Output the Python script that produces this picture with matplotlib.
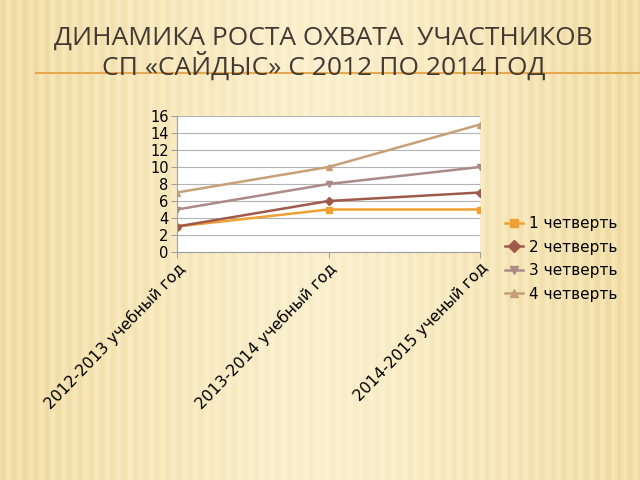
import numpy as np
import matplotlib
matplotlib.use("Agg")
import matplotlib.pyplot as plt
from matplotlib.lines import Line2D

categories = ["2012-2013 учебный год", "2013-2014 учебный год", "2014-2015 ученый год"]
series_names = ["1 четверть", "2 четверть", "3 четверть", "4 четверть"]
q1 = [3, 5, 5]
q2 = [3, 6, 7]
q3 = [5, 8, 10]
q4 = [7, 10, 15]
yticks = [0, 2, 4, 6, 8, 10, 12, 14, 16]

colors = ["#F0A030", "#A05A4C", "#AC8A88", "#C8A078"]
markers = ["s", "D", "v", "^"]

plt.rcParams['font.family'] = ['DejaVu Sans']
fig = plt.figure(figsize=(6.4, 4.8), dpi=100)

# striped background
bg = fig.add_axes([0, 0, 1, 1], zorder=-10)
W, H = 640, 480
xx = np.arange(W)
edge = np.clip(np.abs(xx - W / 2) / (W / 2), 0, 1)
amp = 0.15 + 0.45 * edge ** 1.5
stripe = 0.5 + 0.5 * np.sin(2 * np.pi * xx / 11.0)
base = np.array([0xFC, 0xF2, 0xD2]) / 255.0
edgecol = np.array([0xF6, 0xE4, 0xB0]) / 255.0
dark = np.array([0xE8, 0xD0, 0x94]) / 255.0
e = (edge ** 1.3)[None, :, None] * np.ones((H, 1, 1))
basemix = base * (1 - e) + edgecol * e
t = (amp * stripe)[None, :, None] * np.ones((H, 1, 1))
img = basemix * (1 - t) + dark * t
bg.imshow(img, aspect='auto', extent=[0, W, H, 0])
bg.set_xlim(0, W); bg.set_ylim(H, 0)
bg.axis('off')

# title
fig.text(0.505, 1 - 38 / 480, "ДИНАМИКА РОСТА ОХВАТА  УЧАСТНИКОВ", ha='center', va='center',
         fontsize=19, color='#423A32', family='Open Sans')
fig.text(0.506, 1 - 66 / 480, "СП «САЙДЫС» С 2012 ПО 2014 ГОД", ha='center', va='center',
         fontsize=19, color='#423A32', family='Open Sans')
fig.add_artist(Line2D([36 / 640, 1.0], [1 - 73 / 480, 1 - 73 / 480], transform=fig.transFigure,
                      color='#E6A850', lw=1.5, zorder=-1))

ax = fig.add_axes([177 / 640, 1 - 252 / 480, 303 / 640, 136 / 480])
ax.set_facecolor('white')
x = np.arange(len(categories))
for vals, c, m, n in zip([q1, q2, q3, q4], colors, markers, series_names):
    ax.plot(x, vals, color=c, marker=m, markersize=4, lw=1.8, label=n)
ax.set_xlim(0, 2)
ax.set_ylim(0, 16)
ax.set_yticks(yticks)
ax.set_yticklabels([str(v) for v in yticks], fontsize=10.5)
ax.set_xticks(x)
ax.set_xticklabels(categories, rotation=46, ha='right', va='top', rotation_mode='anchor', fontsize=11.3)
ax.grid(axis='y', color='#B4B4B4', lw=0.8)
ax.set_axisbelow(True)
for s in ['top', 'right']:
    ax.spines[s].set_visible(False)
for s in ['left', 'bottom']:
    ax.spines[s].set_color('#A0A0A0')
ax.tick_params(axis='both', color='#A0A0A0', length=4, width=0.8, pad=2)

leg = fig.legend(loc='center left', bbox_to_anchor=(491 / 640, 1 - 259 / 480), frameon=False,
                 fontsize=11, handlelength=1.2, handletextpad=0.4, labelspacing=0.55,
                 markerscale=1.6)

fig.savefig("out.png", dpi=100)
